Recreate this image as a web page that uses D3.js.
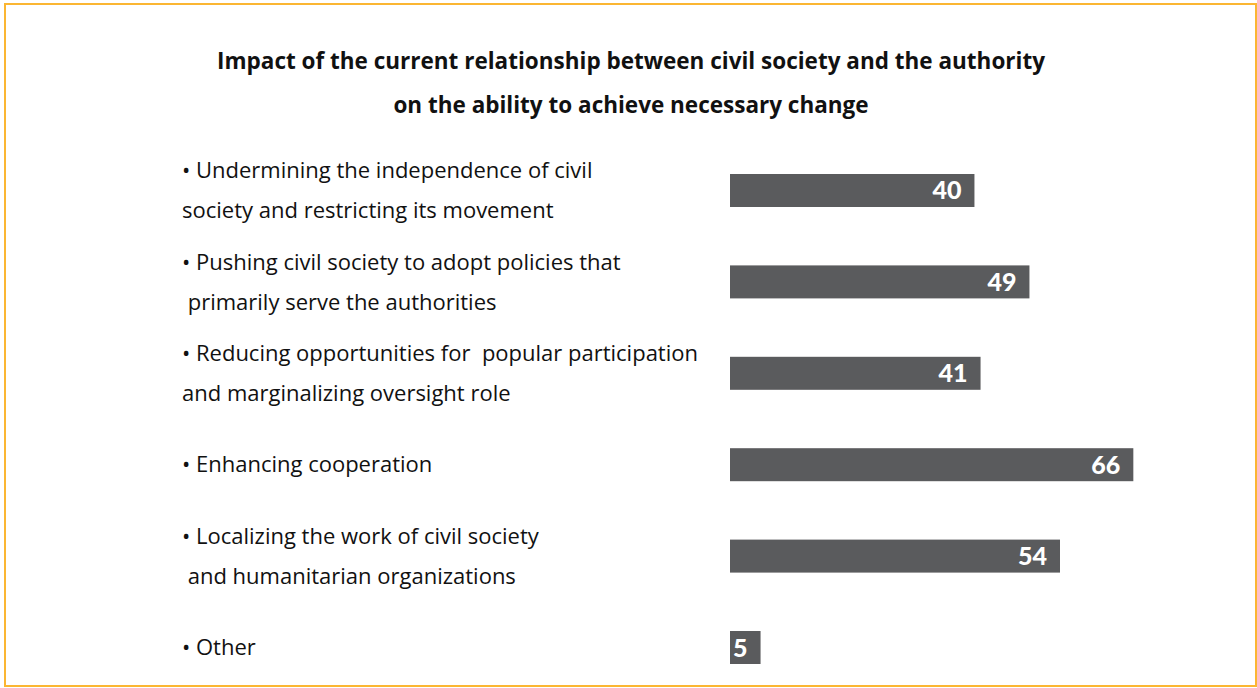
<!DOCTYPE html>
<html>
<head>
<meta charset="utf-8">
<script src="https://cdn.jsdelivr.net/npm/d3@7"></script>
<style>
  html, body { margin: 0; padding: 0; background: #ffffff; }
  svg { display: block; }
  text { white-space: pre; }
</style>
</head>
<body>
<svg id="chart" width="1257" height="688"></svg>
<script>
// Survey responses (%), one entry per answer option
const categories = [
  ["• Undermining the independence of civil", "society and restricting its movement"],
  ["• Pushing civil society to adopt policies that", " primarily serve the authorities"],
  ["• Reducing opportunities for  popular participation", "and marginalizing oversight role"],
  ["• Enhancing cooperation"],
  ["• Localizing the work of civil society", " and humanitarian organizations"],
  ["• Other"]
];
const values = [40, 49, 41, 66, 54, 5];
const titleLines = [
  "Impact of the current relationship between civil society and the authority",
  "on the ability to achieve necessary change"
];

const W = 1257, H = 688;
const svg = d3.select("#chart");
const TEXT_FONT = "'Open Sans', 'Noto Sans', sans-serif";
const NUM_FONT = "Lato, 'Open Sans', sans-serif";

// Frame
svg.append("rect")
  .attr("x", 5).attr("y", 4)
  .attr("width", W - 6).attr("height", H - 6)
  .attr("fill", "none")
  .attr("stroke", "#fbb632")
  .attr("stroke-width", 2);

// Title
svg.append("g").selectAll("text")
  .data(titleLines)
  .join("text")
  .attr("x", 631)
  .attr("y", (d, i) => 69 + i * 44)
  .attr("text-anchor", "middle")
  .attr("font-family", TEXT_FONT)
  .attr("font-weight", 700)
  .attr("font-size", 22.5)
  .attr("fill", "#111")
  .text(d => d);

// Scales
const x = d3.scaleLinear().domain([0, 72]).range([730, 1170]);
const y = d3.scaleBand()
  .domain(d3.range(values.length))
  .range([174, 664])
  .paddingInner(0.639)
  .paddingOuter(0);

// Bars
const bars = svg.append("g");
bars.selectAll("rect")
  .data(values)
  .join("rect")
  .attr("x", x(0))
  .attr("y", (d, i) => y(i))
  .attr("width", d => x(d) - x(0))
  .attr("height", y.bandwidth())
  .attr("fill", "#5a5b5d");

// Value labels inside bar ends
bars.selectAll("text")
  .data(values)
  .join("text")
  .attr("x", d => x(d) - 13)
  .attr("y", (d, i) => y(i) + y.bandwidth() / 2)
  .attr("dy", "0.36em")
  .attr("text-anchor", "end")
  .attr("font-family", NUM_FONT)
  .attr("font-weight", 900)
  .attr("font-size", 25)
  .attr("fill", "#ffffff")
  .text(d => d);

// Category labels
const lineGap = 40;
const labels = svg.append("g");
categories.forEach((lines, i) => {
  const cy = y(i) + y.bandwidth() / 2;
  labels.selectAll(null)
    .data(lines)
    .join("text")
    .attr("x", 182)
    .attr("y", (d, j) => cy + (j - (lines.length - 1) / 2) * lineGap)
    .attr("dy", "0.35em")
    .attr("font-family", TEXT_FONT)
    .attr("font-size", 22)
    .attr("fill", "#111")
    .text(d => d);
});
</script>
</body>
</html>
